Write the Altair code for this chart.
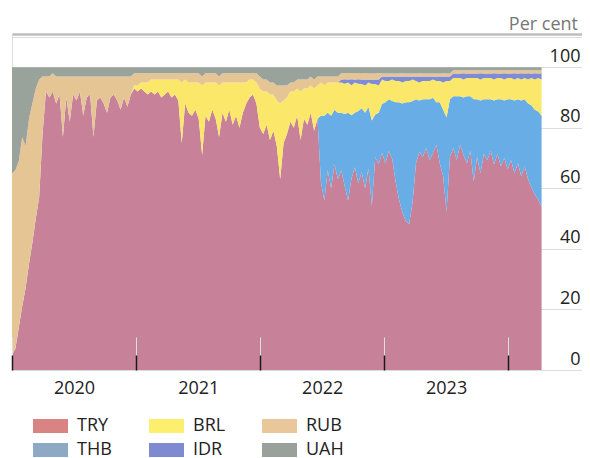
import altair as alt
import pandas as pd

# ---- data (shares in per cent, one value every 10 days from 2020-01-01) ----
start_date = "2020-01-01"
step_days = 10

currencies = ["TRY", "THB", "BRL", "IDR", "RUB", "UAH"]   # stack order, bottom -> top
area_colors = ["#c7829a", "#69ade6", "#fbe86b", "#7f8bd4", "#e6c595", "#9aa29c"]

legend_colors = ["#d98383", "#8ea9c4", "#fcef6e", "#7f8bd1", "#e9c79a", "#9aa19b"]

tick_years = [2020, 2021, 2022, 2023, 2024]

TRY = [5, 7, 14, 21, 27, 35, 42, 50, 57, 78, 92,
       90, 92, 88, 91, 77, 90, 82, 91, 89, 92,
       84, 90, 91, 77, 89, 90, 88, 85, 90, 91,
       89, 86, 90, 87, 91,
       93, 92, 93, 92, 91, 92, 91, 92, 90, 91,
       92, 90, 91, 89, 75, 88, 85, 84, 86, 83,
       71, 84, 82, 86, 83, 77, 85, 82, 86, 81,
       84, 80, 85, 88, 90, 91, 88, 80, 78, 81,
       76, 79, 74, 63, 75, 78, 82, 80, 84, 76,
       83, 81, 85, 79, 83,
       62, 56, 66, 60, 68, 63, 66, 61, 56, 64,
       67, 62, 65, 60, 66, 54, 70, 68, 71, 68,
       72, 69, 62, 56, 52, 49, 48, 55, 68, 72,
       70, 73, 69, 71, 74, 68, 64, 52, 70, 73,
       69, 74, 71, 68, 72, 62, 70, 65, 71, 69,
       72, 68, 71, 67, 70, 66, 69, 65, 68, 64,
       67, 63, 60, 58, 56, 54]

THB = [0] * 91 + [
       22, 28, 19, 24, 18, 22, 19, 24, 29, 21,
       18, 24, 21, 25, 20, 28, 14, 17, 16, 20,
       17, 19, 26, 32, 36, 39, 40, 33, 21, 17,
       19, 16, 20, 18, 14, 20, 22, 31, 19, 17,
       21, 16, 19, 22, 18, 27, 19, 24, 18, 20,
       17, 21, 18, 22, 19, 23, 20, 24, 21, 25,
       22, 25, 27, 28, 29, 30]

BRL = [0] * 36 + [
       1, 2, 2, 3, 4, 4, 5, 4, 6, 5,
       4, 6, 5, 7, 20, 8, 10, 11, 9, 12,
       23, 11, 13, 9, 12, 17, 10, 13, 9, 14,
       11, 15, 10, 7, 6, 5, 7, 13, 14, 11,
       15, 12, 15, 25, 14, 12, 10, 12, 9, 16,
       10, 12, 9, 14, 11,
       11, 10, 10, 11, 9, 10, 10, 10, 10, 10,
       10, 9, 8, 9, 8, 12, 10, 9, 8, 7,
       6, 7, 7, 7, 7, 7, 7, 7, 6, 6,
       6, 6, 6, 6, 7, 7, 9, 12, 6, 6,
       6, 6, 6, 6, 6, 7, 7, 7, 7, 7,
       7, 7, 7, 7, 7, 7, 7, 7, 7, 7,
       7, 8, 9, 10, 11, 12]

IDR = [0] * 97 + [1, 1.5, 1, 2, 1, 1.5,
       1.5, 2, 1, 1.5, 1.5, 2, 1, 1.5, 1.5, 1,
       1.5, 1.5, 2, 1.5, 1.5, 1, 1.5, 2, 1.5, 1.5,
       1.5, 1, 1.5, 1.5, 2, 1.5, 1.5, 1.5, 1.5, 1.5,
       2, 1.5, 1.5, 1.5, 1.5, 2, 1.5, 1.5, 1.5, 2,
       1.5, 1.5, 2, 1.5, 1.5, 2, 1.5, 2, 1.5, 2,
       1.5, 2, 1.5, 2]

RUB = [60, 59, 55, 56, 47, 48, 46, 43, 39, 19, 5,
       7, 6, 9, 6, 20, 7, 15, 6, 8, 5,
       13, 7, 6, 20, 8, 7, 9, 12, 7, 6,
       8, 11, 7, 10, 6,
       4, 4, 3, 3, 3, 2, 2, 2, 2, 2,
       2, 2, 2, 2, 3, 2, 3, 3, 3, 3,
       3, 3, 3, 3, 3, 3, 3, 3, 3, 3,
       3, 3, 3, 3, 2, 2, 3, 4, 4, 4,
       4, 4, 5, 6, 5, 4, 3, 3, 3, 4,
       3, 3, 3, 3, 3,
       2, 3, 2, 2, 2, 2, 2, 2, 2, 2,
       2, 2, 2, 2, 2, 2, 2, 2, 1, 1] + [1] * 46

UAH = [35, 34, 31, 23, 26, 17, 12, 7, 4, 3, 3,
       3, 2, 3, 3, 3, 3, 3, 3, 3, 3,
       3, 3, 3, 3, 3, 3, 3, 3, 3, 3,
       3, 3, 3, 3, 3,
       2, 2, 2, 2, 2, 2, 2, 2, 2, 2,
       2, 2, 2, 2, 2, 2, 2, 2, 2, 2,
       3, 2, 2, 2, 2, 3, 2, 2, 2, 2,
       2, 2, 2, 2, 2, 2, 2, 3, 4, 4,
       5, 5, 6, 6, 6, 6, 5, 5, 4, 4,
       4, 4, 3, 4, 3,
       3, 3, 3, 3, 3, 3, 2, 2, 2, 2,
       2, 2, 2, 2, 2, 2, 2, 2, 2, 2] + [2] * 19 + [1] * 27

series = {"TRY": TRY, "THB": THB, "BRL": BRL, "IDR": IDR, "RUB": RUB, "UAH": UAH}
n = len(TRY)
dates = pd.date_range(start_date, periods=n, freq=f"{step_days}D")

rows = []
for i, cur in enumerate(currencies):
    vals = series[cur]
    for d, v in zip(dates, vals):
        rows.append({"date": d.strftime("%Y-%m-%d"), "cur": cur, "share": v, "idx": i})
df = pd.DataFrame(rows)

PLOT_H = 336

x_axis = alt.Axis(
    values=[alt.DateTime(year=y, month=1, date=1, utc=True) for y in tick_years],
    title=None, domain=False, ticks=True, tickSize=15, tickColor="#1a1a1a", tickWidth=1.5,
    offset=-15, labelOffset=62, labelPadding=9,
    labelExpr="utcyear(datum.value) < 2024 ? utcFormat(datum.value, '%Y') : ''",
    labelFlush=False, labelOverlap=False, labelFontSize=18, labelFont="Open Sans",
    labelColor="#222222", grid=True, gridColor="#dedede", gridWidth=1,
    gridDash=[0, 303, 33, 20], zindex=1,
)

y_axis = alt.Axis(
    orient="right", values=[0, 0.2, 0.4, 0.6, 0.8, 1.0, 1.1, 1.11], title=None,
    domain=False, ticks=False, tickSize=0, labelPadding=-2, labelAlign="right",
    labelBaseline="alphabetic", labelOffset=-6,
    labelExpr="datum.value <= 1.001 ? format(datum.value * 100, 'd') : ''",
    labelFontSize=18, labelFont="Open Sans", labelColor="#222222",
    labelFlush=False, labelOverlap=False,
    gridColor={"condition": {"test": "datum.value > 1.105", "value": "#bdbdbd"}, "value": "#dcdcdc"},
    gridWidth={"condition": {"test": "datum.value > 1.105", "value": 2.5}, "value": 1},
)

areas = alt.Chart(df).mark_area(interpolate="linear").encode(
    x=alt.X("date:T", scale=alt.Scale(type="utc", domain=[
        alt.DateTime(year=2020, month=1, date=1, utc=True),
        alt.DateTime(year=2024, month=8, date=6, utc=True)]), axis=x_axis),
    y=alt.Y("share:Q", stack="normalize",
            scale=alt.Scale(domain=[0, 1.11], nice=False, zero=True), axis=y_axis),
    color=alt.Color("cur:N", scale=alt.Scale(domain=currencies, range=area_colors), legend=None),
    order=alt.Order("idx:Q", sort="ascending"),
)

legend_df = pd.DataFrame({"cur": currencies})
legend_layer = alt.Chart(legend_df).mark_square(opacity=0).encode(
    x=alt.value(0), y=alt.value(0),
    color=alt.Color("cur:N", scale=alt.Scale(domain=currencies, range=legend_colors),
                    legend=alt.Legend(
                        orient="none", legendX=29.5, legendY=383, columns=3, title=None,
                        symbolType="M-2,-0.8L2,-0.8L2,0.8L-2,0.8Z", symbolSize=306.25,
                        symbolStrokeWidth=0, symbolOpacity=1,
                        labelFontSize=18, labelFont="Open Sans", labelColor="#222222",
                        labelOffset=17.5, rowPadding=6, columnPadding=36, padding=0)),
)

chart = alt.layer(areas, legend_layer).resolve_scale(color="independent").properties(
    width=570, height=PLOT_H,
    padding={"left": 4, "top": 26, "right": 0, "bottom": 88},
    autosize=alt.AutoSizeParams(type="none"),
    title=alt.TitleParams("Per cent", anchor="end", fontSize=18, font="Open Sans",
                          fontWeight="normal", color="#777777", offset=6,
                          baseline="alphabetic", dx=-4, dy=40),
).configure_view(strokeWidth=0).configure(font="Open Sans", background="white")

chart.save("out.html", embed_options={"renderer": "svg", "actions": False})
